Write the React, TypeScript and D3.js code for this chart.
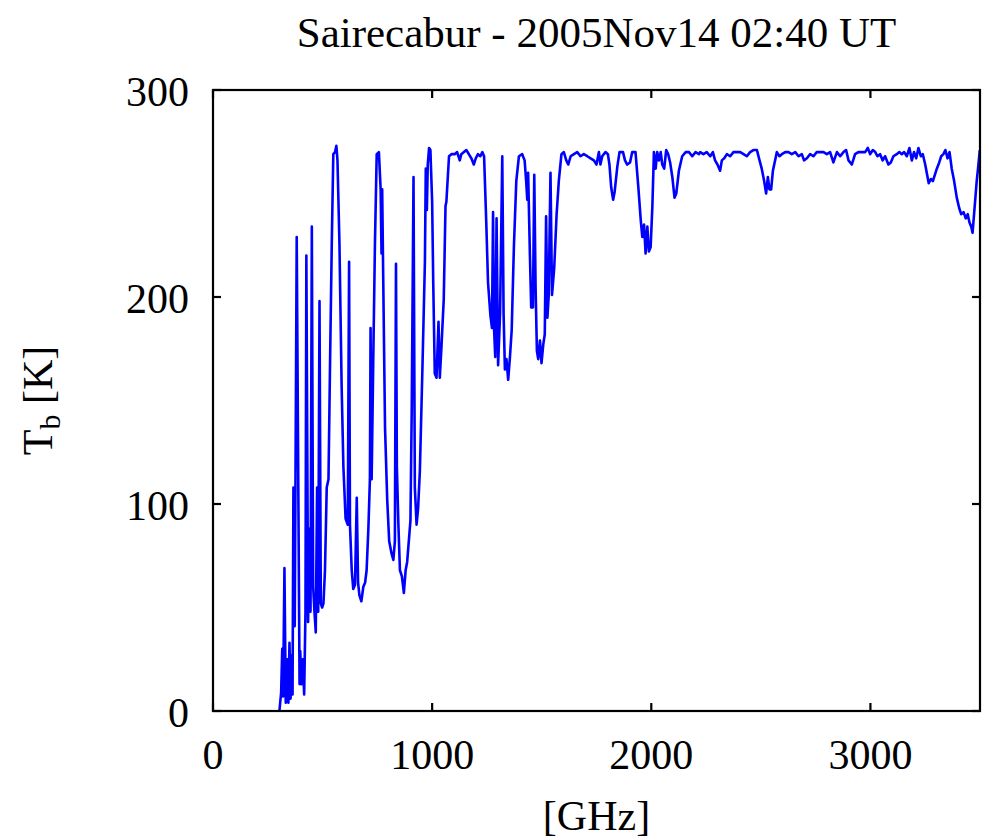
import React, { useEffect, useRef } from 'react';
import * as d3 from 'd3';

const title = 'Sairecabur - 2005Nov14 02:40 UT';
const xTicks = [0, 1000, 2000, 3000];
const yTicks = [0, 100, 200, 300];

// frequency [GHz] / brightness temperature [K]
const freqGHz = [
  303, 311, 316, 320, 326, 332, 340, 344, 349, 354, 358, 363, 367, 373, 382, 395, 398, 404, 410, 416,
  422, 426, 434, 440, 445, 451, 457, 463, 469, 475, 480, 486, 492, 498, 504, 511, 519, 527, 534, 542,
  549, 557, 563, 568, 577, 587, 595, 605, 615, 621, 625, 633, 640, 648, 656, 662, 668, 677, 686, 694,
  701, 709, 716, 719, 724, 731, 739, 747, 757, 765, 769, 772, 777, 785, 795, 804, 815, 823, 830, 835,
  839, 846, 853, 862, 871, 879, 886, 895, 901, 907, 915, 921, 929, 936, 944, 956, 967, 971, 976, 980,
  986, 992, 1000, 1005, 1012, 1020, 1029, 1035, 1043, 1053, 1061, 1065, 1077, 1088, 1103, 1114, 1126, 1133, 1156, 1179,
  1190, 1199, 1209, 1220, 1229, 1237, 1247, 1255, 1266, 1273, 1278, 1282, 1288, 1294, 1301, 1310, 1320, 1326, 1332, 1339,
  1347, 1355, 1363, 1373, 1384, 1396, 1411, 1422, 1429, 1434, 1438, 1446, 1452, 1460, 1466, 1472, 1478, 1484, 1492, 1499,
  1507, 1514, 1520, 1526, 1532, 1540, 1547, 1557, 1568, 1578, 1590, 1601, 1612, 1621, 1632, 1647, 1662, 1677, 1692, 1708,
  1723, 1738, 1750, 1761, 1768, 1776, 1791, 1802, 1809, 1817, 1826, 1833, 1845, 1855, 1871, 1880, 1890, 1903, 1913, 1928,
  1941, 1952, 1959, 1967, 1974, 1982, 1989, 1997, 2005, 2012, 2020, 2027, 2035, 2043, 2050, 2059, 2068, 2077, 2086, 2096,
  2106, 2114, 2126, 2141, 2157, 2172, 2187, 2202, 2218, 2223, 2238, 2253, 2269, 2281, 2291, 2302, 2314, 2322, 2333, 2345,
  2360, 2375, 2390, 2406, 2421, 2436, 2451, 2466, 2482, 2494, 2504, 2515, 2524, 2532, 2539, 2547, 2555, 2565, 2573, 2585,
  2596, 2611, 2626, 2641, 2657, 2672, 2687, 2697, 2710, 2725, 2740, 2755, 2771, 2786, 2801, 2816, 2831, 2847, 2862, 2877,
  2889, 2900, 2915, 2930, 2945, 2961, 2976, 2988, 2999, 3011, 3022, 3032, 3044, 3056, 3067, 3082, 3093, 3105, 3120, 3132,
  3143, 3154, 3166, 3178, 3189, 3199, 3209, 3219, 3230, 3239, 3250, 3257, 3266, 3276, 3285, 3294, 3303, 3314, 3323, 3333,
  3342, 3352, 3361, 3371, 3382, 3394, 3405, 3414, 3425, 3435, 3444, 3452, 3460, 3466, 3473, 3479, 3485, 3491, 3499,
];
const tbK = [
  0, 9, 30, 7, 69, 4, 25, 4, 33, 6, 27, 8, 108, 41, 229, 13, 29, 13, 25, 8,
  48, 220, 43, 88, 48, 234, 60, 48, 38, 108, 48, 198, 52, 50, 52, 68, 108, 112, 167, 226,
  269, 270, 273, 266, 226, 157, 118, 93, 90, 217, 90, 68, 59, 61, 103, 62, 56, 53, 60, 62,
  68, 88, 112, 185, 112, 167, 226, 269, 270, 252, 221, 252, 207, 137, 102, 82, 76, 73, 82, 216,
  118, 90, 68, 65, 57, 68, 72, 84, 92, 147, 258, 108, 90, 98, 116, 167, 217, 262, 242, 264,
  272, 271, 246, 207, 163, 161, 188, 161, 177, 199, 244, 246, 268, 269, 269, 270, 266, 269, 271, 267,
  264, 267, 269, 268, 270, 268, 236, 207, 191, 185, 241, 186, 171, 238, 167, 192, 268, 192, 165, 170,
  160, 171, 184, 224, 256, 268, 269, 266, 256, 247, 260, 221, 195, 195, 259, 205, 174, 170, 179, 168,
  177, 182, 239, 190, 201, 260, 201, 214, 240, 256, 269, 270, 266, 264, 268, 269, 270, 268, 269, 268,
  267, 266, 264, 270, 264, 268, 270, 269, 264, 253, 247, 251, 263, 270, 270, 266, 264, 265, 270, 270,
  253, 237, 229, 235, 221, 234, 222, 224, 244, 270, 262, 270, 266, 270, 264, 262, 271, 269, 265, 258,
  248, 250, 261, 268, 270, 270, 268, 270, 269, 270, 269, 270, 268, 270, 266, 264, 261, 266, 267, 269,
  268, 270, 270, 270, 269, 268, 270, 271, 271, 266, 262, 256, 250, 258, 252, 252, 261, 266, 270, 268,
  269, 270, 270, 269, 270, 268, 269, 266, 267, 269, 268, 270, 270, 270, 269, 270, 265, 270, 268, 270,
  271, 266, 264, 269, 270, 270, 270, 272, 269, 271, 270, 268, 269, 266, 268, 264, 265, 268, 269, 270,
  269, 270, 268, 272, 266, 270, 267, 272, 268, 269, 264, 260, 255, 257, 256, 259, 262, 265, 268, 269,
  271, 267, 270, 262, 256, 248, 243, 240, 241, 238, 240, 236, 234, 231, 240, 248, 256, 262, 271,
];

const W = 984;
const H = 839;
const M = { left: 213, right: 980, top: 90, bottom: 711 };
const FONT = '"Liberation Serif", "Times New Roman", serif';

export default function App() {
  const ref = useRef<SVGSVGElement>(null);

  useEffect(() => {
    const svg = d3.select(ref.current);
    svg.selectAll('*').remove();

    const x = d3.scaleLinear().domain([0, 3500]).range([M.left, M.right]);
    const y = d3.scaleLinear().domain([0, 300]).range([M.bottom, M.top]);
    const tick = 8;

    const data = freqGHz.map((f, i) => [f, tbK[i]] as [number, number]);

    svg.append('path')
      .datum(data)
      .attr('fill', 'none')
      .attr('stroke', '#0000ff')
      .attr('stroke-width', 2.6)
      .attr('stroke-linejoin', 'round')
      .attr('d', d3.line<[number, number]>().x(d => x(d[0])).y(d => y(d[1])));

    const g = svg.append('g').attr('stroke', '#000').attr('stroke-width', 2.2);

    xTicks.forEach(t => {
      g.append('line').attr('x1', x(t)).attr('x2', x(t)).attr('y1', M.bottom).attr('y2', M.bottom - tick);
      g.append('line').attr('x1', x(t)).attr('x2', x(t)).attr('y1', M.top).attr('y2', M.top + tick);
    });
    yTicks.forEach(t => {
      g.append('line').attr('x1', M.left).attr('x2', M.left + tick).attr('y1', y(t)).attr('y2', y(t));
      g.append('line').attr('x1', M.right).attr('x2', M.right - tick).attr('y1', y(t)).attr('y2', y(t));
    });

    g.append('rect')
      .attr('x', M.left).attr('y', M.top)
      .attr('width', M.right - M.left).attr('height', M.bottom - M.top)
      .attr('fill', 'none');

    const txt = svg.append('g').attr('font-family', FONT).attr('font-size', 42).attr('fill', '#000');

    txt.selectAll('text.xt')
      .data(xTicks)
      .enter()
      .append('text')
      .attr('class', 'xt')
      .attr('x', d => x(d))
      .attr('y', 769)
      .attr('text-anchor', 'middle')
      .text(d => d);

    txt.selectAll('text.yt')
      .data(yTicks)
      .enter()
      .append('text')
      .attr('class', 'yt')
      .attr('x', 189)
      .attr('y', d => y(d) + 16)
      .attr('text-anchor', 'end')
      .text(d => d);

    txt.append('text')
      .attr('x', (M.left + M.right) / 2)
      .attr('y', 47)
      .attr('font-size', 43)
      .attr('text-anchor', 'middle')
      .text(title);

    txt.append('text')
      .attr('x', (M.left + M.right) / 2)
      .attr('y', 830)
      .attr('text-anchor', 'middle')
      .text('[GHz]');

    const yl = txt.append('text')
      .attr('transform', 'translate(52,' + (M.top + M.bottom) / 2 + ') rotate(-90)')
      .attr('text-anchor', 'middle');
    yl.append('tspan').text('T');
    yl.append('tspan').attr('font-size', 30).attr('dy', 8).text('b');
    yl.append('tspan').attr('dy', -8).text(' [K]');
  }, []);

  return (
    <svg ref={ref} width={W} height={H} style={{ position: 'absolute', left: 0, top: 0, background: '#fff' }} />
  );
}
